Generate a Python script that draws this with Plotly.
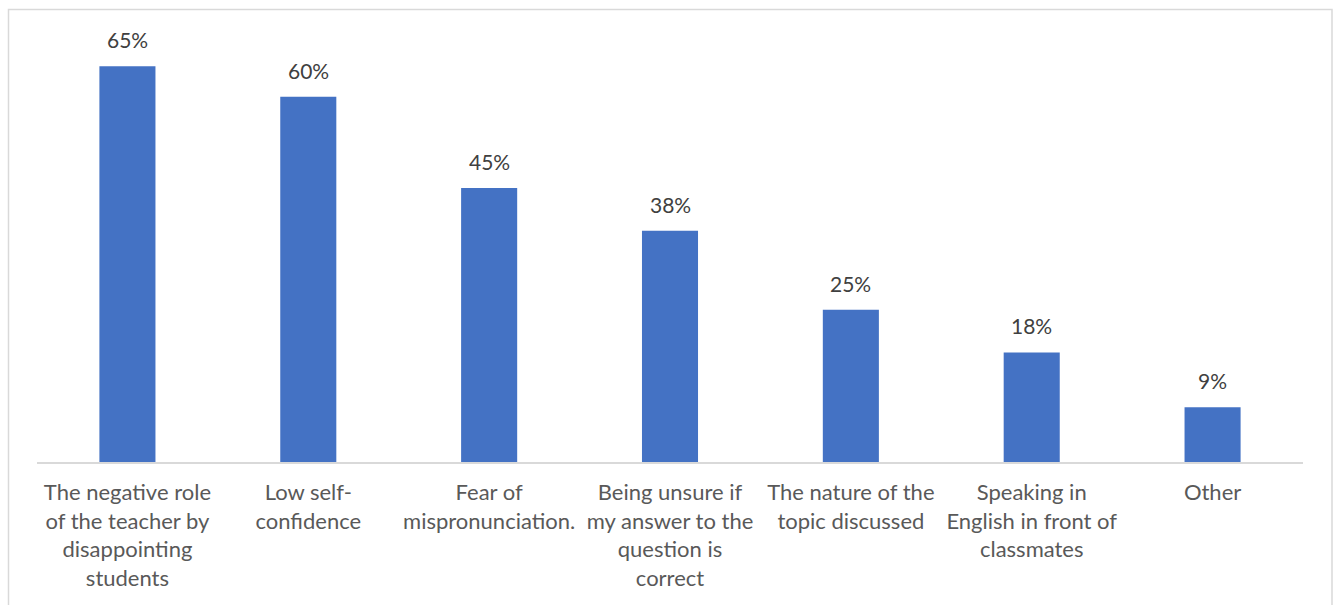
import plotly.graph_objects as go

categories = [
    "The negative role<br>of the teacher by<br>disappointing<br>students",
    "Low self-<br>confidence",
    "Fear of<br>mispronunciation.",
    "Being unsure if<br>my answer to the<br>question is<br>correct",
    "The nature of the<br>topic discussed",
    "Speaking in<br>English in front of<br>classmates",
    "Other",
]
values = [65, 60, 45, 38, 25, 18, 9]
value_labels = ["65%", "60%", "45%", "38%", "25%", "18%", "9%"]

W, H = 1339, 605
ml, mr, mt, mb = 37, 36, 20, 143
plot_h = H - mt - mb
y_max = 72.6

fig = go.Figure()
fig.add_trace(go.Bar(
    x=list(range(len(categories))),
    y=values,
    marker=dict(color="#4472C4", line=dict(width=0)),
    hoverinfo="skip",
))

for i, (v, t) in enumerate(zip(values, value_labels)):
    fig.add_annotation(
        x=i, y=v, text=t, showarrow=False,
        yanchor="bottom", yshift=12,
        font=dict(family="Lato", size=21, color="#404040"),
    )

# outer frame around the chart
x0 = (8.5 - ml) / (W - ml - mr)
x1 = (1332 - ml) / (W - ml - mr)
y1 = (H - mb - 9.5) / plot_h
y0 = (H - mb - 620) / plot_h
fig.add_shape(type="rect", xref="paper", yref="paper",
              x0=x0, x1=x1, y0=y0, y1=y1,
              line=dict(color="#D9D9D9", width=1.5), layer="below")

fig.update_layout(
    width=W, height=H,
    margin=dict(l=ml, r=mr, t=mt, b=mb),
    paper_bgcolor="white", plot_bgcolor="white",
    bargap=0.69,
    showlegend=False,
    xaxis=dict(
        tickmode="array", tickvals=list(range(len(categories))),
        ticktext=categories, range=[-0.5, len(categories) - 0.5],
        showline=True, linecolor="#D9D9D9", linewidth=1.5,
        ticks="", showgrid=False, zeroline=False,
        tickfont=dict(family="Lato", size=22, color="#595959"),
        ticklabelstandoff=10,
        tickangle=0,
    ),
    yaxis=dict(range=[0, y_max], visible=False, showgrid=False, zeroline=False),
)

fig.write_html("out.html")
